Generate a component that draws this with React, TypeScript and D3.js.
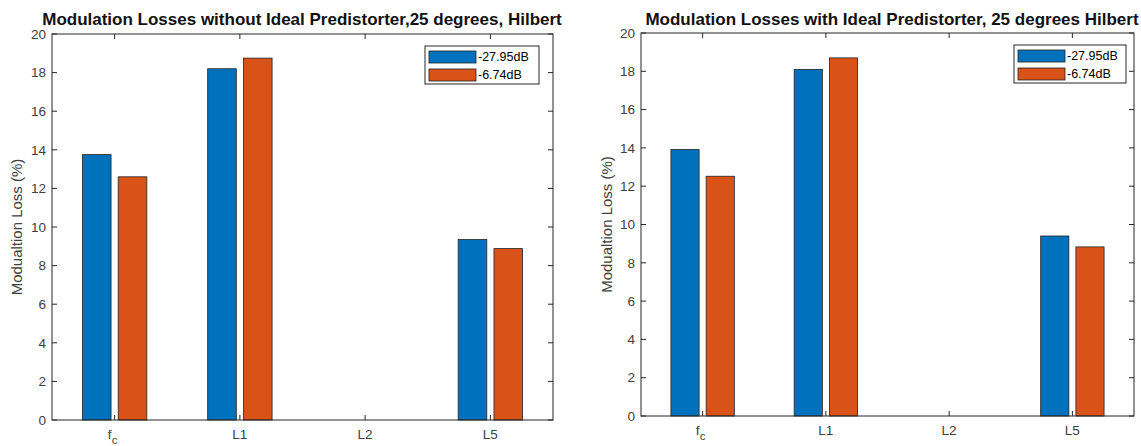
import React from 'react';
import * as d3 from 'd3';

// categories along x axis (fc is drawn with subscript)
const categories = ['fc', 'L1', 'L2', 'L5'];
const seriesNames = ['-27.95dB', '-6.74dB'];
const seriesColors = ['#0072BD', '#D95319'];
const yTicks = [0, 2, 4, 6, 8, 10, 12, 14, 16, 18, 20];

// left chart: without ideal predistorter
const withoutBlue = [13.75, 18.2, 0, 9.35];
const withoutOrange = [12.6, 18.75, 0, 8.88];

// right chart: with ideal predistorter
const withBlue = [13.92, 18.1, 0, 9.4];
const withOrange = [12.52, 18.7, 0, 8.83];

const FONT = 'Liberation Sans, Arial, Helvetica, sans-serif';
const AXIS = '#262626';
const TICK_TEXT = '#404040';

interface PanelProps {
    title: string;
    series: number[][];
    left: number;
    right: number;
    top: number;
    bottom: number;
    titleX: number;
    legendX: number;
    legendY: number;
    legendW: number;
    labelX: number;
}

const Panel: React.FC<PanelProps> = ({ title, series, left, right, top, bottom, titleX, legendX, legendY, legendW, labelX }) => {
    const x = d3.scaleLinear().domain([0.5, 4.5]).range([left, right]);
    const y = d3.scaleLinear().domain([0, 20]).range([bottom, top]);

    // MATLAB grouped bar layout for 2 series
    const slot = 2 / 7;
    const offsets = [-slot / 2, slot / 2];
    const barW = x(0.8 * slot) - x(0);
    const tickLen = 5;

    return (
        <g fontFamily={FONT}>
            <text x={titleX} y={25} textAnchor="middle" fontSize={17} fontWeight="bold" fill="#111">
                {title}
            </text>

            {/* bars */}
            {series.map((vals, s) =>
                vals.map((v, i) =>
                    v > 0 ? (
                        <rect
                            key={`${s}-${i}`}
                            x={x(i + 1 + offsets[s]) - barW / 2}
                            y={y(v)}
                            width={barW}
                            height={y(0) - y(v)}
                            fill={seriesColors[s]}
                            stroke="#222"
                            strokeWidth={0.8}
                        />
                    ) : null
                )
            )}

            {/* box */}
            <rect x={left} y={top} width={right - left} height={bottom - top} fill="none" stroke={AXIS} strokeWidth={1} />

            {/* y ticks */}
            {yTicks.map((t) => (
                <g key={t}>
                    <line x1={left} x2={left + tickLen} y1={y(t)} y2={y(t)} stroke={AXIS} />
                    <line x1={right} x2={right - tickLen} y1={y(t)} y2={y(t)} stroke={AXIS} />
                    <text x={left - 6} y={y(t)} dy="0.35em" textAnchor="end" fontSize={13.5} fill={TICK_TEXT}>
                        {t}
                    </text>
                </g>
            ))}

            {/* x ticks */}
            {categories.map((c, i) => (
                <g key={c}>
                    <line x1={x(i + 1)} x2={x(i + 1)} y1={bottom} y2={bottom - tickLen} stroke={AXIS} />
                    <line x1={x(i + 1)} x2={x(i + 1)} y1={top} y2={top + tickLen} stroke={AXIS} />
                    {c === 'fc' ? (
                        <text x={x(i + 1) - 2} y={bottom + 19} textAnchor="middle" fontSize={13.5} fill={TICK_TEXT}>
                            f
                            <tspan fontSize={11.5} dy={5}>c</tspan>
                        </text>
                    ) : (
                        <text x={x(i + 1)} y={bottom + 19} textAnchor="middle" fontSize={13.5} fill={TICK_TEXT}>
                            {c}
                        </text>
                    )}
                </g>
            ))}

            {/* y label */}
            <text
                transform={`translate(${labelX}, ${(top + bottom) / 2}) rotate(-90)`}
                textAnchor="middle"
                fontSize={15}
                fill={TICK_TEXT}
            >
                Modualtion Loss (%)
            </text>

            {/* legend */}
            <rect x={legendX} y={legendY} width={legendW} height={38} fill="#fff" stroke={AXIS} strokeWidth={1} />
            {seriesNames.map((n, s) => (
                <g key={n}>
                    <rect
                        x={legendX + 4}
                        y={legendY + 5 + s * 18}
                        width={47}
                        height={12}
                        fill={seriesColors[s]}
                        stroke="#222"
                        strokeWidth={0.8}
                    />
                    <text x={legendX + 53} y={legendY + 11 + s * 18} dy="0.35em" fontSize={12.5} fill="#000">
                        {n}
                    </text>
                </g>
            ))}
        </g>
    );
};

export default function App() {
    return (
        <svg width={1141} height={446} style={{ position: 'absolute', left: 0, top: 0, background: '#fff' }}>
            <rect width={1141} height={446} fill="#fff" />
            <Panel
                title="Modulation Losses without Ideal Predistorter,25 degrees, Hilbert"
                series={[withoutBlue, withoutOrange]}
                left={52}
                right={553}
                top={34}
                bottom={420}
                titleX={302}
                legendX={425}
                legendY={46}
                legendW={114}
                labelX={22}
            />
            <Panel
                title="Modulation Losses with Ideal Predistorter, 25 degrees Hilbert"
                series={[withBlue, withOrange]}
                left={641}
                right={1134}
                top={33}
                bottom={416}
                titleX={892}
                legendX={1014}
                legendY={45}
                legendW={112}
                labelX={612}
            />
        </svg>
    );
}
